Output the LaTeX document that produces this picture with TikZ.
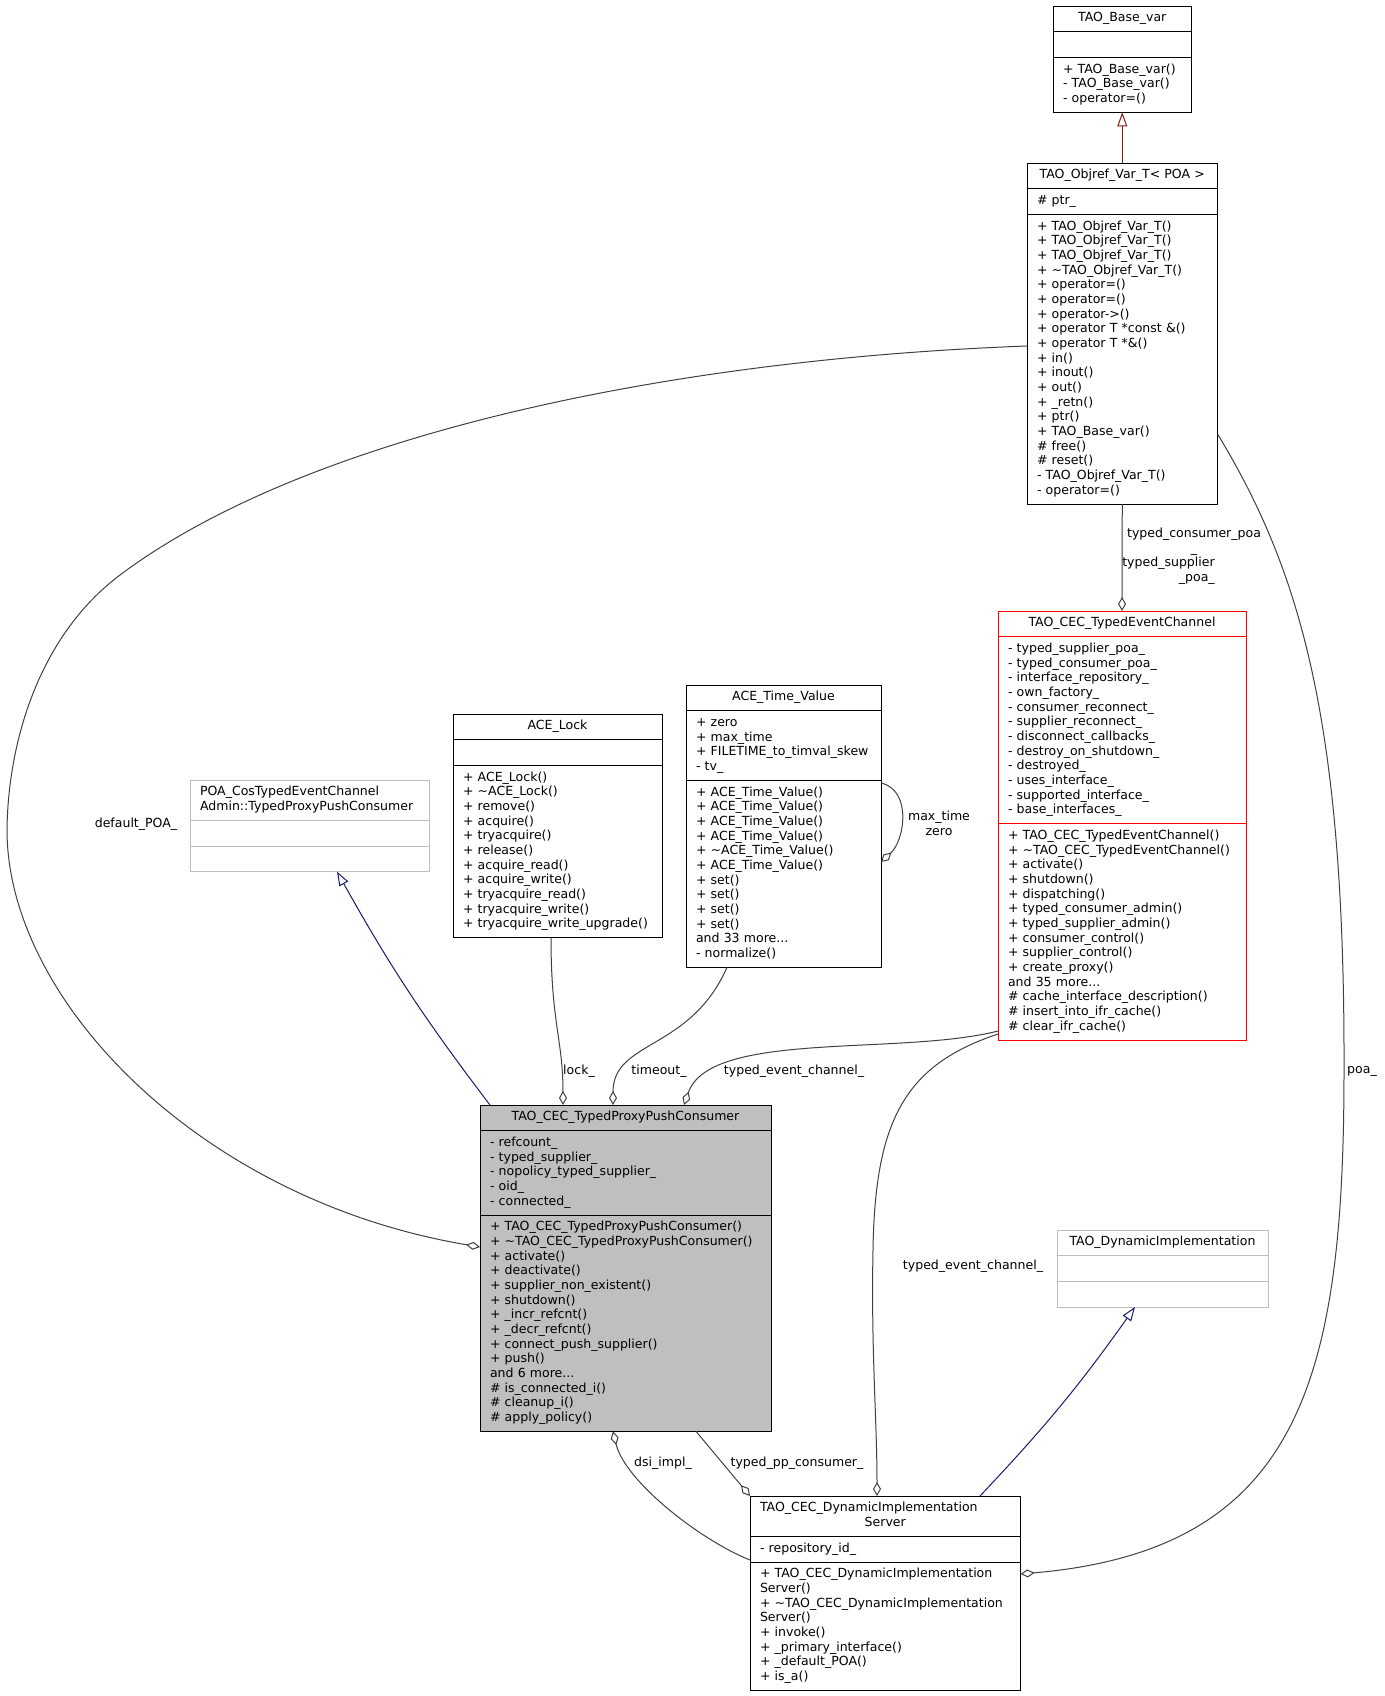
\documentclass[tikz,border=0pt]{standalone}
\usepackage{fontspec}
\setmainfont{DejaVu Sans}
\usetikzlibrary{shapes.multipart, arrows.meta, calc}

\definecolor{edgegray}{HTML}{404040}
\definecolor{pubblue}{HTML}{191970}
\definecolor{privred}{HTML}{8B1A1A}
\definecolor{undoc}{HTML}{BFBFBF}

\newcommand{\umlfont}{\fontsize{9.4pt}{11pt}\selectfont\hyphenpenalty=10000 \exhyphenpenalty=10000 }
\newcommand{\clshead}[1]{\makebox[\linewidth][c]{\strut#1}}

\begin{document}
\begin{tikzpicture}[x=0.75pt,y=-0.75pt,
    klass/.style={rectangle split,rectangle split parts=3,draw,line width=0.75pt,
      outer sep=0pt,inner xsep=7.5pt,inner ysep=3.75pt,anchor=north west,align=left,font=\umlfont},
    undockl/.style={klass,draw=undoc},
    agg/.style={draw=edgegray,line width=0.75pt,-{Diamond[open,length=10.5pt,width=6pt]}},
    inh/.style={line width=0.75pt,-{Triangle[open,length=10.5pt,width=7.5pt]}},
    lbl/.style={font=\umlfont,inner sep=0pt,align=center}]
  \useasboundingbox (0,0) rectangle (1385,1696);

  % classes
  \node[klass,text width=88.9pt] (base) at (1053,6)
    {\clshead{TAO\_Base\_var}
     \nodepart{two}\strut
     \nodepart{three}\strut+ TAO\_Base\_var()\\- TAO\_Base\_var()\\- operator=()\strut};
  \node[klass,text width=127.9pt] (objref) at (1027,163)
    {\clshead{TAO\_Objref\_Var\_T< POA >}
     \nodepart{two}\strut\# ptr\_\strut
     \nodepart{three}\strut+ TAO\_Objref\_Var\_T()\\+ TAO\_Objref\_Var\_T()\\+ TAO\_Objref\_Var\_T()\\
     + \textasciitilde TAO\_Objref\_Var\_T()\\+ operator=()\\+ operator=()\\+ operator->()\\
     + operator T *const \&()\\+ operator T *\&()\\+ in()\\+ inout()\\+ out()\\+ \_retn()\\
     + ptr()\\+ TAO\_Base\_var()\\\# free()\\\# reset()\\- TAO\_Objref\_Var\_T()\\- operator=()\strut};
  \node[klass,draw=red,text width=171pt] (chan) at (998,611)
    {\clshead{TAO\_CEC\_TypedEventChannel}
     \nodepart{two}\strut- typed\_supplier\_poa\_\\- typed\_consumer\_poa\_\\- interface\_repository\_\\
     - own\_factory\_\\- consumer\_reconnect\_\\- supplier\_reconnect\_\\- disconnect\_callbacks\_\\
     - destroy\_on\_shutdown\_\\- destroyed\_\\- uses\_interface\_\\- supported\_interface\_\\- base\_interfaces\_\strut
     \nodepart{three}\strut+ TAO\_CEC\_TypedEventChannel()\\+ \textasciitilde TAO\_CEC\_TypedEventChannel()\\
     + activate()\\+ shutdown()\\+ dispatching()\\+ typed\_consumer\_admin()\\+ typed\_supplier\_admin()\\
     + consumer\_control()\\+ supplier\_control()\\+ create\_proxy()\\and 35 more...\\
     \# cache\_interface\_description()\\\# insert\_into\_ifr\_cache()\\\# clear\_ifr\_cache()\strut};
  \node[klass,text width=131.25pt] (timev) at (686,685)
    {\clshead{ACE\_Time\_Value}
     \nodepart{two}\strut+ zero\\+ max\_time\\+ FILETIME\_to\_timval\_skew\\- tv\_\strut
     \nodepart{three}\strut+ ACE\_Time\_Value()\\+ ACE\_Time\_Value()\\+ ACE\_Time\_Value()\\+ ACE\_Time\_Value()\\
     + \textasciitilde ACE\_Time\_Value()\\+ ACE\_Time\_Value()\\+ set()\\+ set()\\+ set()\\+ set()\\
     and 33 more...\\- normalize()\strut};
  \node[klass,text width=141.75pt] (lock) at (453,714)
    {\clshead{ACE\_Lock}
     \nodepart{two}\strut
     \nodepart{three}\strut+ ACE\_Lock()\\+ \textasciitilde ACE\_Lock()\\+ remove()\\+ acquire()\\+ tryacquire()\\
     + release()\\+ acquire\_read()\\+ acquire\_write()\\+ tryacquire\_read()\\+ tryacquire\_write()\\
     + tryacquire\_write\_upgrade()\strut};
  \node[undockl,text width=164.6pt] (poa) at (190,780)
    {\strut POA\_CosTypedEventChannel\\Admin::TypedProxyPushConsumer\strut
     \nodepart{two}\strut
     \nodepart{three}\strut};
  \node[klass,fill=undoc,text width=203.25pt] (proxy) at (480,1105)
    {\clshead{TAO\_CEC\_TypedProxyPushConsumer}
     \nodepart{two}\strut- refcount\_\\- typed\_supplier\_\\- nopolicy\_typed\_supplier\_\\- oid\_\\- connected\_\strut
     \nodepart{three}\strut+ TAO\_CEC\_TypedProxyPushConsumer()\\+ \textasciitilde TAO\_CEC\_TypedProxyPushConsumer()\\
     + activate()\\+ deactivate()\\+ supplier\_non\_existent()\\+ shutdown()\\+ \_incr\_refcnt()\\
     + \_decr\_refcnt()\\+ connect\_push\_supplier()\\+ push()\\and 6 more...\\
     \# is\_connected\_i()\\\# cleanup\_i()\\\# apply\_policy()\strut};
  \node[undockl,text width=143.25pt] (dynimpl) at (1057,1230)
    {\clshead{TAO\_DynamicImplementation}
     \nodepart{two}\strut
     \nodepart{three}\strut};
  \node[klass,text width=187.9pt] (dis) at (750,1496)
    {\strut TAO\_CEC\_DynamicImplementation\\\clshead{Server}
     \nodepart{two}\strut- repository\_id\_\strut
     \nodepart{three}\strut+ TAO\_CEC\_DynamicImplementation\\Server()\\
     + \textasciitilde TAO\_CEC\_DynamicImplementation\\Server()\\+ invoke()\\+ \_primary\_interface()\\
     + \_default\_POA()\\+ is\_a()\strut};

  % inheritance
  \draw[inh,privred] (objref.north) -- (base.south);
  \draw[inh,pubblue] ($(proxy.north west)+(10,0)$) to[bend left=4] ($(poa.south west)+(147,0)$);
  \draw[inh,pubblue] ($(dis.north west)+(230,0)$) to[bend right=4] ($(dynimpl.south west)+(78,0)$);

  % usage
  \draw[agg] (objref.south) -- (chan.north);
  \draw[agg] ($(timev.north east)+(0,98)$) .. controls +(31,7) and +(24,-22) .. ($(timev.north east)+(0,177)$);
  \draw[agg] ($(lock.south west)+(98,0)$) .. controls +(0,85) and +(0,-65) .. ($(proxy.north west)+(83,0)$);
  \draw[agg] ($(timev.south west)+(41,0)$) .. controls +(-37,84) and +(0,-65) .. ($(proxy.north west)+(133,0)$);
  \draw[agg] ($(chan.south west)+(0,-9)$) .. controls +(-98,25) and +(26,-75) .. ($(proxy.north west)+(204,0)$);
  \draw[agg] ($(chan.south west)+(0,-6)$) .. controls (905,1065) and (875,1120) .. (873,1250)
    .. controls (871,1350) and (877,1420) .. ($(dis.north west)+(127,0)$);
  \draw[agg] ($(objref.north east)+(0,271)$) .. controls (1300,570) and (1345,720) .. (1344,1070)
    .. controls (1344,1380) and (1300,1550) .. ($(dis.north east)+(0,78)$);
  \draw[agg] ($(objref.north west)+(0,183)$) .. controls (650,360) and (300,440) .. (120,575)
    .. controls (40,635) and (8,740) .. (7,830)
    .. controls (7,1000) and (200,1200) .. ($(proxy.north west)+(0,142)$);
  \draw[agg] ($(proxy.south west)+(216,0)$) -- (dis.north west);
  \draw[agg] ($(dis.north west)+(0,64)$) .. controls +(-50,-20) and +(12,50) .. ($(proxy.south west)+(133,0)$);

  % labels
  \node[lbl] (l-defpoa) at (136,824) {default\_POA\_};
  \node[lbl] (l-lock) at (579,1071) {lock\_};
  \node[lbl] (l-timeout) at (659,1071) {timeout\_};
  \node[lbl] (l-tec1) at (794,1071) {typed\_event\_channel\_};
  \node[lbl] (l-tec2) at (973,1266) {typed\_event\_channel\_};
  \node[lbl] (l-self) at (939,823) {max\_time\\zero};
  \node[lbl] (l-tcpoa) at (1194,542) {typed\_consumer\_poa\\\_};
  \node[lbl,align=right,anchor=east] (l-tspoa) at (1215,571) {typed\_supplier\\\_poa\_};
  \node[lbl] (l-poa) at (1362,1071) {poa\_};
  \node[lbl] (l-tpp) at (797,1463) {typed\_pp\_consumer\_};
  \node[lbl] (l-dsi) at (663,1463) {dsi\_impl\_};
\end{tikzpicture}
\end{document}
